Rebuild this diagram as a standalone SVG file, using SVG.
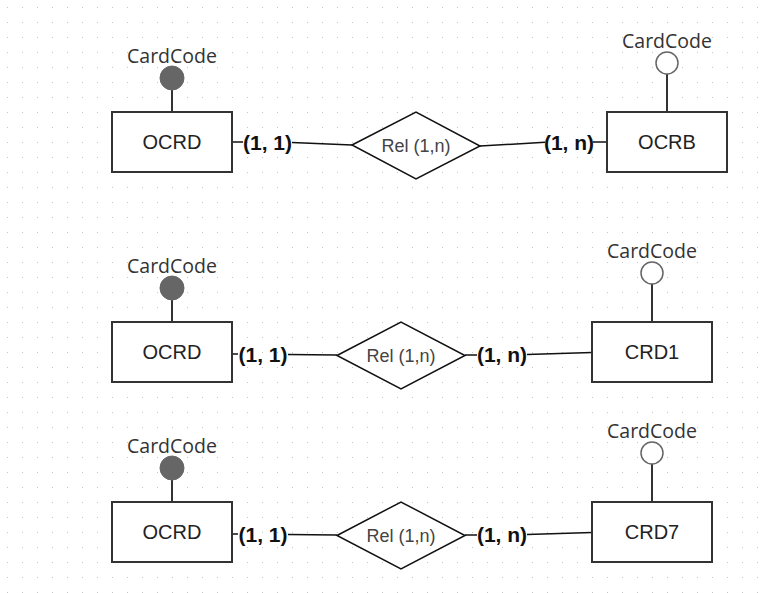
<svg xmlns="http://www.w3.org/2000/svg" width="770" height="593" viewBox="0 0 770 593">
  <style>
    .entity rect { fill: #ffffff; stroke: #333333; stroke-width: 2; }
    .entity text { font-family: "Liberation Sans", Arial, sans-serif; font-size: 20px; fill: #222222; text-anchor: middle; }
    .rel polygon { fill: #ffffff; stroke: #111111; stroke-width: 1.5; }
    .rel text { font-family: "Liberation Sans", Arial, sans-serif; font-size: 18px; fill: #444444; text-anchor: middle; }
    .attr-line { stroke: #333333; stroke-width: 2; }
    .key { fill: #666666; stroke: #666666; stroke-width: 1; }
    .nonkey { fill: #ffffff; stroke: #666666; stroke-width: 1.5; }
    .attr text { font-family: "Open Sans", "Noto Sans", sans-serif; font-size: 19.5px; fill: #333333; text-anchor: middle; }
    .edges line { stroke: #111111; stroke-width: 1.5; }
    .card { font-family: "Liberation Sans", Arial, sans-serif; font-size: 21px; font-weight: bold; fill: #111111; text-anchor: middle; }
  </style>
  <defs>
    <pattern id="grid" x="0" y="0" width="15" height="15" patternUnits="userSpaceOnUse">
      <rect x="7" y="7" width="1" height="1" fill="#c4c4c4"/>
    </pattern>
  </defs>

  <rect width="770" height="593" fill="#ffffff"/>
  <rect width="770" height="593" fill="url(#grid)"/>

  <!-- connectors and cardinality labels -->
  <g id="connectors" class="edges">
    <!-- row 1 -->
    <line x1="232" y1="142" x2="243" y2="142"/>
    <line x1="292" y1="142.5" x2="352" y2="145"/>
    <line x1="480" y1="146" x2="545" y2="142.3"/>
    <line x1="593" y1="142" x2="607" y2="142"/>
    <text class="card" x="267.5" y="150">(1, 1)</text>
    <text class="card" x="569" y="150">(1, n)</text>
    <!-- row 2 -->
    <line x1="232" y1="354" x2="238" y2="354"/>
    <line x1="288" y1="354.5" x2="337" y2="355"/>
    <line x1="465" y1="355" x2="477" y2="355"/>
    <line x1="527" y1="354.5" x2="592" y2="352.5"/>
    <text class="card" x="263" y="362">(1, 1)</text>
    <text class="card" x="502" y="362">(1, n)</text>
    <!-- row 3 -->
    <line x1="232" y1="534" x2="238" y2="534"/>
    <line x1="288" y1="534.5" x2="337" y2="535"/>
    <line x1="465" y1="535" x2="477" y2="535"/>
    <line x1="527" y1="534.5" x2="592" y2="532.5"/>
    <text class="card" x="263" y="542">(1, 1)</text>
    <text class="card" x="502" y="542">(1, n)</text>
  </g>

  <!-- row 1 -->
  <g id="ocrd-1" class="entity">
    <rect x="112" y="112" width="120" height="60"/>
    <text x="172" y="149">OCRD</text>
  </g>
  <g id="ocrd-1-cardcode" class="attr">
    <line class="attr-line" x1="172" y1="90" x2="172" y2="112"/>
    <circle class="key" cx="172" cy="78" r="12"/>
    <text x="172" y="63">CardCode</text>
  </g>
  <g id="rel-1" class="rel">
    <polygon points="352,145 416,112 480,146 416,179"/>
    <text x="416" y="152">Rel (1,n)</text>
  </g>
  <g id="ocrb" class="entity">
    <rect x="607" y="112" width="120" height="60"/>
    <text x="667" y="149">OCRB</text>
  </g>
  <g id="ocrb-cardcode" class="attr">
    <line class="attr-line" x1="667" y1="74" x2="667" y2="112"/>
    <circle class="nonkey" cx="667" cy="63" r="11"/>
    <text x="667" y="48">CardCode</text>
  </g>

  <!-- row 2 -->
  <g id="ocrd-2" class="entity">
    <rect x="112" y="322" width="120" height="60"/>
    <text x="172" y="359">OCRD</text>
  </g>
  <g id="ocrd-2-cardcode" class="attr">
    <line class="attr-line" x1="172" y1="300" x2="172" y2="322"/>
    <circle class="key" cx="172" cy="288" r="12"/>
    <text x="172" y="273">CardCode</text>
  </g>
  <g id="rel-2" class="rel">
    <polygon points="337,355.5 401,322 465,355.5 401,389"/>
    <text x="401" y="362">Rel (1,n)</text>
  </g>
  <g id="crd1" class="entity">
    <rect x="592" y="322" width="120" height="60"/>
    <text x="652" y="359">CRD1</text>
  </g>
  <g id="crd1-cardcode" class="attr">
    <line class="attr-line" x1="652" y1="284" x2="652" y2="322"/>
    <circle class="nonkey" cx="652" cy="273" r="11"/>
    <text x="652" y="258">CardCode</text>
  </g>

  <!-- row 3 -->
  <g id="ocrd-3" class="entity">
    <rect x="112" y="502" width="120" height="60"/>
    <text x="172" y="539">OCRD</text>
  </g>
  <g id="ocrd-3-cardcode" class="attr">
    <line class="attr-line" x1="172" y1="480" x2="172" y2="502"/>
    <circle class="key" cx="172" cy="468" r="12"/>
    <text x="172" y="453">CardCode</text>
  </g>
  <g id="rel-3" class="rel">
    <polygon points="337,535.5 401,502 465,535.5 401,569"/>
    <text x="401" y="542">Rel (1,n)</text>
  </g>
  <g id="crd7" class="entity">
    <rect x="592" y="502" width="120" height="60"/>
    <text x="652" y="539">CRD7</text>
  </g>
  <g id="crd7-cardcode" class="attr">
    <line class="attr-line" x1="652" y1="464" x2="652" y2="502"/>
    <circle class="nonkey" cx="652" cy="453" r="11"/>
    <text x="652" y="438">CardCode</text>
  </g>
</svg>
